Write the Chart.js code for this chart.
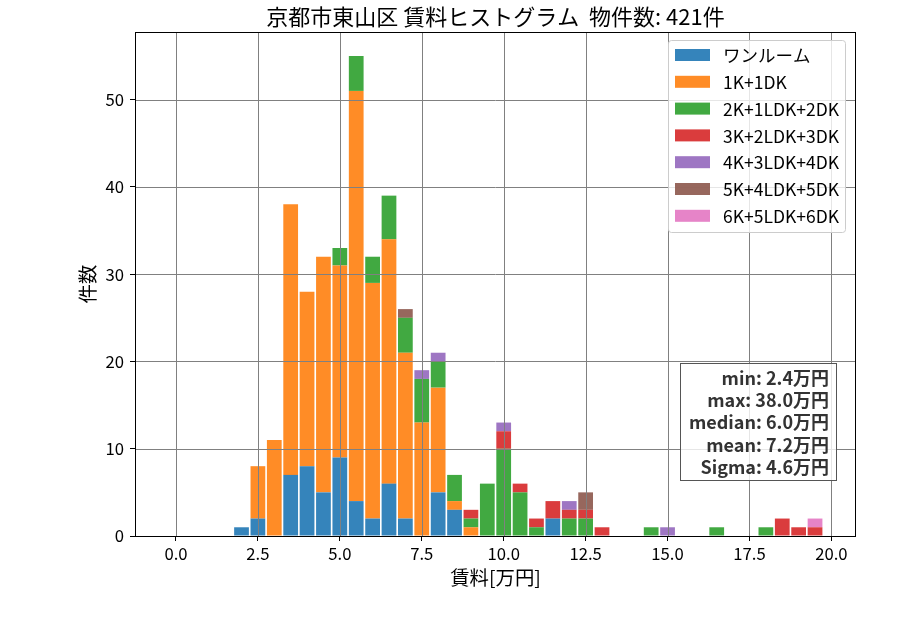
<!DOCTYPE html>
<html>
<head>
<meta charset="utf-8">
<script src="https://cdn.jsdelivr.net/npm/chart.js@4"></script>
<style>
html,body{margin:0;padding:0;background:#fff;}
canvas{display:block;}
</style>
</head>
<body>
<canvas id="c" width="900" height="630"></canvas>
<script>
// ---- data ----
const titleText = "京都市東山区 賃料ヒストグラム  物件数: 421件";
const xLabel = "賃料[万円]";
const yLabel = "件数";
const binCenters = [2.0,2.5,3.0,3.5,4.0,4.5,5.0,5.5,6.0,6.5,
                    7.0,7.5,8.0,8.5,9.0,9.5,10.0,10.5,11.0,11.5,
                    12.0,12.5,13.0,13.5,14.0,14.5,15.0,15.5,16.0,16.5,
                    17.0,17.5,18.0,18.5,19.0,19.5];
const seriesNames = ["ワンルーム","1K+1DK","2K+1LDK+2DK","3K+2LDK+3DK","4K+3LDK+4DK","5K+4LDK+5DK","6K+5LDK+6DK"];
const oneRoom = [1,2,0,7,8,5,9,4,2,6, 2,0,5,3,0,0,0,0,0,2, 0,0,0,0,0,0,0,0,0,0, 0,0,0,0,0,0];
const k1      = [0,6,11,31,20,27,22,47,27,28, 19,13,12,1,1,0,0,0,0,0, 0,0,0,0,0,0,0,0,0,0, 0,0,0,0,0,0];
const k2      = [0,0,0,0,0,0,2,4,3,5, 4,5,3,3,1,6,10,5,1,0, 2,2,0,0,0,1,0,0,0,1, 0,0,1,0,0,0];
const k3      = [0,0,0,0,0,0,0,0,0,0, 0,0,0,0,1,0,2,1,1,2, 1,1,1,0,0,0,0,0,0,0, 0,0,0,2,1,1];
const k4      = [0,0,0,0,0,0,0,0,0,0, 0,1,1,0,0,0,1,0,0,0, 1,0,0,0,0,0,1,0,0,0, 0,0,0,0,0,0];
const k5      = [0,0,0,0,0,0,0,0,0,0, 1,0,0,0,0,0,0,0,0,0, 0,2,0,0,0,0,0,0,0,0, 0,0,0,0,0,0];
const k6      = [0,0,0,0,0,0,0,0,0,0, 0,0,0,0,0,0,0,0,0,0, 0,0,0,0,0,0,0,0,0,0, 0,0,0,0,0,1];
const seriesValues = [oneRoom,k1,k2,k3,k4,k5,k6];
const seriesColors = ["rgba(31,119,180,0.9)","rgba(255,127,14,0.9)","rgba(44,160,44,0.9)","rgba(214,39,40,0.9)","rgba(148,103,189,0.9)","rgba(140,86,75,0.9)","rgba(227,119,194,0.9)"];
const xTickValues = [0,2.5,5,7.5,10,12.5,15,17.5,20];
const yTickValues = [0,10,20,30,40,50];
const xRange = [-1.25, 20.75];
const yRange = [0, 57.75];
const statsLines = ["min: 2.4万円","max: 38.0万円","median: 6.0万円","mean: 7.2万円","Sigma: 4.6万円"];

const FONT = "'Noto Sans CJK JP','Noto Sans',sans-serif";

const datasets = seriesNames.map((name,i)=>({
  label: name,
  data: binCenters.map((x,j)=>({x:x, y:seriesValues[i][j]})),
  backgroundColor: seriesColors[i],
  borderWidth: 0,
  barPercentage: 0.9,
  categoryPercentage: 1.0
}));

const overlay = {
  id: 'overlay',
  afterDatasetsDraw(chart){
    const ctx = chart.ctx, a = chart.chartArea;
    const xs = chart.scales.x, ys = chart.scales.y;
    ctx.save();
    ctx.strokeStyle = '#808080';
    ctx.lineWidth = 1;
    ctx.beginPath();
    xTickValues.forEach(v=>{
      const p = Math.round(xs.getPixelForValue(v))+0.5;
      ctx.moveTo(p,a.top); ctx.lineTo(p,a.bottom);
    });
    yTickValues.forEach(v=>{
      const p = Math.round(ys.getPixelForValue(v))+0.5;
      ctx.moveTo(a.left,p); ctx.lineTo(a.right,p);
    });
    ctx.stroke();
    ctx.strokeStyle = '#000';
    ctx.strokeRect(Math.round(a.left)+0.5, Math.round(a.top)+0.5, Math.round(a.right-a.left)-1, Math.round(a.bottom-a.top));
    ctx.restore();
  },
  afterDraw(chart){
    const ctx = chart.ctx, a = chart.chartArea;
    const cx = (a.left+a.right)/2;
    ctx.save();
    // title
    ctx.fillStyle = '#000';
    ctx.textAlign = 'center';
    ctx.textBaseline = 'middle';
    ctx.font = "22px " + FONT;
    ctx.fillText(titleText, cx, 17);
    ctx.font = "19.4px " + FONT;
    ctx.fillText(xLabel, cx, 578);
    ctx.save();
    ctx.translate(88, (a.top+a.bottom)/2);
    ctx.rotate(-Math.PI/2);
    ctx.fillText(yLabel, 0, 0);
    ctx.restore();

    // legend
    const lx = 668.5, ly = 40.5, lw = 177, lh = 192;
    ctx.beginPath();
    if (ctx.roundRect) ctx.roundRect(lx, ly, lw, lh, 3); else ctx.rect(lx,ly,lw,lh);
    ctx.fillStyle = 'rgba(255,255,255,0.8)';
    ctx.fill();
    ctx.strokeStyle = '#cccccc';
    ctx.lineWidth = 1;
    ctx.stroke();
    ctx.font = "17.5px " + FONT;
    ctx.textAlign = 'left';
    ctx.textBaseline = 'middle';
    chart.data.datasets.forEach((ds,i)=>{
      const top = 49 + i*26.8;
      ctx.fillStyle = ds.backgroundColor;
      ctx.fillRect(675, top, 35, 12);
      ctx.fillStyle = '#000';
      ctx.fillText(ds.label, 723, top+6.5);
    });

    // stats box
    ctx.fillStyle = 'rgba(255,255,255,0.8)';
    ctx.fillRect(680.5, 363.5, 156, 117);
    ctx.strokeStyle = '#555';
    ctx.strokeRect(680.5, 363.5, 156, 117);
    ctx.fillStyle = '#333';
    ctx.font = "bold 18px " + FONT;
    ctx.textAlign = 'right';
    ctx.textBaseline = 'alphabetic';
    statsLines.forEach((t,i)=>{
      ctx.fillText(t, 829, 385 + i*22.2);
    });
    ctx.restore();
  }
};

new Chart(document.getElementById('c'), {
  type: 'bar',
  data: { datasets },
  options: {
    responsive: false,
    animation: false,
    devicePixelRatio: 1,
    layout: { padding: { left: 0, top: 32, right: 44, bottom: 0 } },
    plugins: { legend: { display: false }, tooltip: { enabled: false }, title: { display: false } },
    scales: {
      x: {
        type: 'linear',
        stacked: true,
        offset: false,
        min: xRange[0], max: xRange[1],
        afterFit: s => { s.height = 94; },
        afterBuildTicks: s => { s.ticks = xTickValues.map(v=>({value:v})); },
        grid: { offset: false, drawOnChartArea: false, drawTicks: true, tickLength: 5, color: '#000', tickColor: '#000', lineWidth: 1 },
        border: { display: false },
        ticks: { padding: 3, color: '#000', font: { family: FONT, size: 16.7 }, maxRotation: 0, autoSkip: false,
                 callback: v => Number(v).toFixed(1) }
      },
      y: {
        type: 'linear',
        stacked: true,
        min: yRange[0], max: yRange[1],
        afterFit: s => { s.width = 135; },
        afterBuildTicks: s => { s.ticks = yTickValues.map(v=>({value:v})); },
        grid: { drawOnChartArea: false, drawTicks: true, tickLength: 5, color: '#000', tickColor: '#000', lineWidth: 1 },
        border: { display: false },
        ticks: { padding: 6, color: '#000', font: { family: FONT, size: 16.7 }, autoSkip: false,
                 callback: v => String(v) }
      }
    }
  },
  plugins: [overlay]
});
</script>
</body>
</html>
